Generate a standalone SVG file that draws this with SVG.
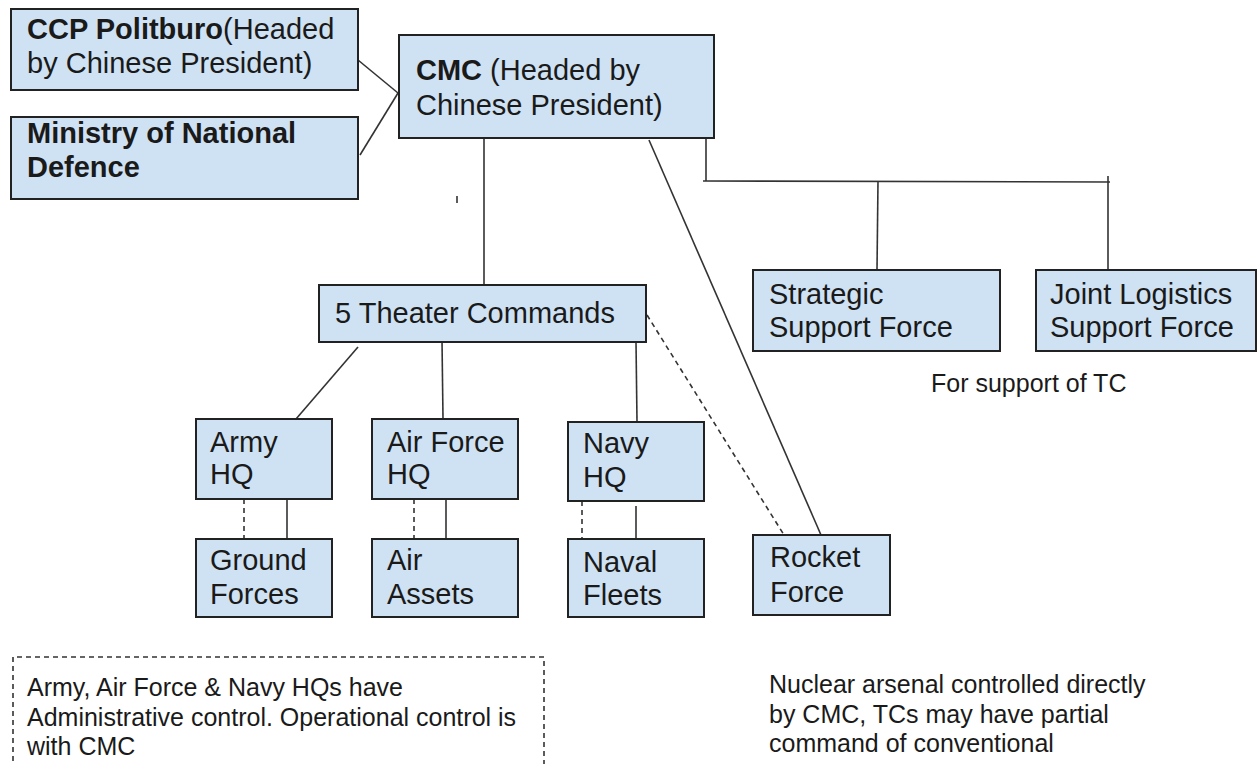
<svg xmlns="http://www.w3.org/2000/svg" width="1258" height="764" viewBox="0 0 1258 764">
<style>
.box{fill:#cfe2f3;stroke:#222;stroke-width:2}
.t{font-family:"Liberation Sans",Arial,sans-serif;font-size:29px;fill:#1a1a1a}
.s{font-family:"Liberation Sans",Arial,sans-serif;font-size:25px;fill:#1a1a1a}
.b{font-weight:bold}
.ln{stroke:#333;stroke-width:1.6;fill:none}
.dl{stroke:#333;stroke-width:1.6;fill:none;stroke-dasharray:5,4}
</style>
<rect width="1258" height="764" fill="#fff"/>
<g id="connectors">
<line class="ln" x1="358" y1="60" x2="398" y2="93"/>
<line class="ln" x1="360" y1="155" x2="398" y2="93"/>
<line class="ln" x1="484" y1="138" x2="484" y2="285"/>
<line class="ln" x1="649" y1="140" x2="821" y2="535"/>
<polyline class="ln" points="706,138 706,181"/>
<line class="ln" x1="703" y1="181" x2="1110" y2="182"/>
<line class="ln" x1="878" y1="181" x2="877" y2="270"/>
<line class="ln" x1="1108" y1="176" x2="1108" y2="270"/>
<line class="ln" x1="457" y1="196" x2="457" y2="203"/>
<line class="ln" x1="358" y1="347" x2="296" y2="419"/>
<line class="ln" x1="442" y1="340" x2="443" y2="419"/>
<line class="ln" x1="636" y1="342" x2="637" y2="422"/>
<line class="dl" x1="647" y1="315" x2="784" y2="535"/>
<line class="dl" x1="244" y1="499" x2="244" y2="539"/>
<line class="ln" x1="287" y1="499" x2="287" y2="539"/>
<line class="dl" x1="414" y1="499" x2="414" y2="539"/>
<line class="ln" x1="446" y1="499" x2="446" y2="539"/>
<line class="dl" x1="582" y1="501" x2="582" y2="539"/>
<line class="ln" x1="636" y1="506" x2="636" y2="539"/>
</g>
<g id="politburo">
<rect class="box" x="11" y="9" width="347" height="81"/>
<text class="t" x="27" y="39"><tspan class="b">CCP Politburo</tspan>(Headed</text>
<text class="t" x="27" y="73">by Chinese President)</text>
</g>
<g id="ministry">
<rect class="box" x="11" y="117" width="347" height="82"/>
<text class="t b" x="27" y="143">Ministry of National</text>
<text class="t b" x="27" y="177">Defence</text>
</g>
<g id="cmc">
<rect class="box" x="399" y="35" width="315" height="103"/>
<text class="t" x="416" y="80"><tspan class="b">CMC</tspan> (Headed by</text>
<text class="t" x="416" y="115">Chinese President)</text>
</g>
<g id="theater">
<rect class="box" x="319" y="285" width="327" height="57"/>
<text class="t" x="335" y="323">5 Theater Commands</text>
</g>
<g id="ssf">
<rect class="box" x="753" y="270" width="247" height="81"/>
<text class="t" x="769" y="304">Strategic</text>
<text class="t" x="769" y="337">Support Force</text>
</g>
<g id="jlsf">
<rect class="box" x="1036" y="270" width="220" height="81"/>
<text class="t" x="1050" y="304">Joint Logistics</text>
<text class="t" x="1050" y="337">Support Force</text>
</g>
<g id="army">
<rect class="box" x="196" y="419" width="136" height="80"/>
<text class="t" x="210" y="452">Army</text>
<text class="t" x="210" y="484">HQ</text>
</g>
<g id="airforce">
<rect class="box" x="372" y="419" width="146" height="80"/>
<text class="t" x="387" y="452">Air Force</text>
<text class="t" x="387" y="484">HQ</text>
</g>
<g id="navy">
<rect class="box" x="568" y="422" width="136" height="79"/>
<text class="t" x="583" y="453">Navy</text>
<text class="t" x="583" y="487">HQ</text>
</g>
<g id="ground">
<rect class="box" x="196" y="539" width="136" height="78"/>
<text class="t" x="210" y="570">Ground</text>
<text class="t" x="210" y="604">Forces</text>
</g>
<g id="airassets">
<rect class="box" x="372" y="539" width="146" height="78"/>
<text class="t" x="387" y="570">Air</text>
<text class="t" x="387" y="604">Assets</text>
</g>
<g id="naval">
<rect class="box" x="568" y="539" width="136" height="78"/>
<text class="t" x="583" y="572">Naval</text>
<text class="t" x="583" y="605">Fleets</text>
</g>
<g id="rocket">
<rect class="box" x="753" y="535" width="137" height="80"/>
<text class="t" x="770" y="567">Rocket</text>
<text class="t" x="770" y="602">Force</text>
</g>
<g id="note-support">
<text class="s" x="931" y="392">For support of TC</text>
</g>
<g id="note-admin">
<path class="dl" d="M13,770 V657 H544 V770"/>
<text class="s" x="27" y="696">Army, Air Force &amp; Navy HQs have</text>
<text class="s" x="27" y="726">Administrative control. Operational control is</text>
<text class="s" x="27" y="755">with CMC</text>
</g>
<g id="note-nuclear">
<text class="s" x="769" y="693">Nuclear arsenal controlled directly</text>
<text class="s" x="769" y="723">by CMC, TCs may have partial</text>
<text class="s" x="769" y="752">command of conventional</text>
</g>
</svg>
